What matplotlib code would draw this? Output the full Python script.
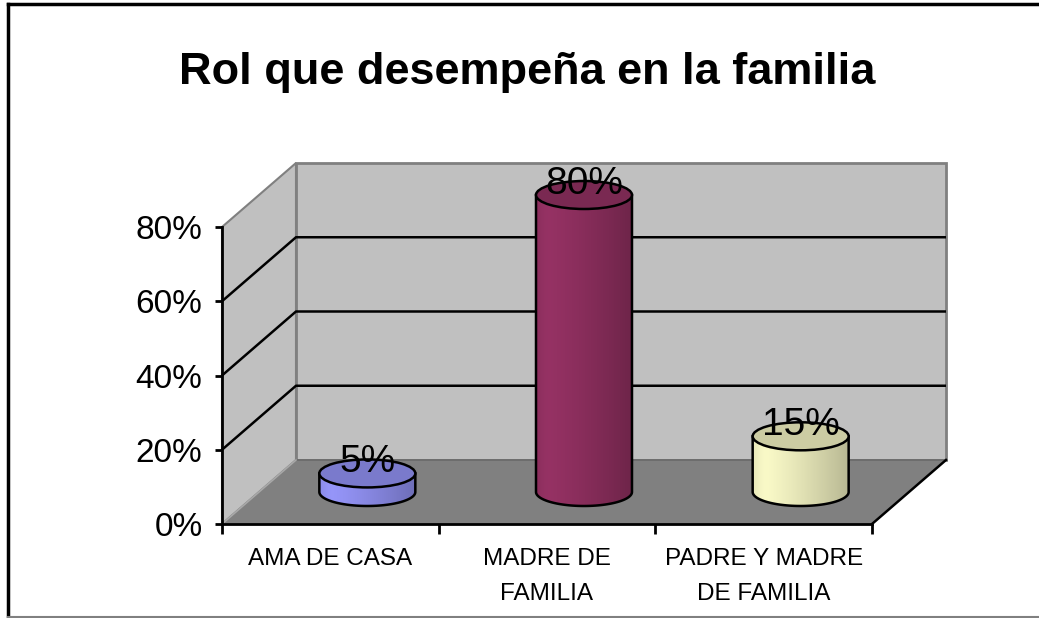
import numpy as np
import matplotlib
matplotlib.use("Agg")
import matplotlib.pyplot as plt
from matplotlib.patches import Polygon, Ellipse, PathPatch
from matplotlib.path import Path
from matplotlib.lines import Line2D
from matplotlib.colors import to_rgb

# ---- datos ----
categorias = ["AMA DE CASA", "MADRE DE\nFAMILIA", "PADRE Y MADRE\nDE FAMILIA"]
valores = [0.05, 0.80, 0.15]
colores = ["#9999FF", "#993366", "#FFFFCC"]
yticks = [0.0, 0.2, 0.4, 0.6, 0.8]
ytick_labels = ["0%", "20%", "40%", "60%", "80%"]
titulo = "Rol que desempeña en la familia"

plt.rcParams["font.family"] = ["Liberation Sans", "DejaVu Sans"]

W, H = 1039, 618
fig = plt.figure(figsize=(W / 100, H / 100), dpi=100)
fig.patch.set_facecolor("white")

# plano frontal del grafico 3D
ax = fig.add_axes([222 / W, (H - 524) / H, 650 / W, 297 / H])
ax.patch.set_visible(False)

# desplazamiento de profundidad (unidades de datos)
DX, DY = 0.3415, 0.1724
x0, x1 = -0.5, 2.5
ytop = yticks[-1]

gris_claro = "#C0C0C0"
gris = "#808080"

# paredes y piso
ax.add_patch(Polygon([(x0, 0), (x0, ytop), (x0 + DX, ytop + DY), (x0 + DX, DY)],
                     closed=True, fc=gris_claro, ec=gris, lw=1.5, clip_on=False, zorder=1))
ax.add_patch(Polygon([(x0 + DX, DY), (x0 + DX, ytop + DY), (x1 + DX, ytop + DY), (x1 + DX, DY)],
                     closed=True, fc=gris_claro, ec=gris, lw=2, clip_on=False, zorder=1))
for yv in yticks[1:-1]:
    ax.plot([x0, x0 + DX, x1 + DX], [yv, yv + DY, yv + DY], color="black", lw=1.8,
            clip_on=False, zorder=2, solid_capstyle="butt")
ax.add_patch(Polygon([(x0, 0), (x1, 0), (x1 + DX, DY), (x0 + DX, DY)],
                     closed=True, fc=gris, ec="none", clip_on=False, zorder=3))
ax.plot([x0 + DX, x1 + DX], [DY, DY], color="#6a6a6a", lw=1.2, clip_on=False, zorder=3)
ax.plot([x0, x0 + DX], [0, DY], color="#a8a8a8", lw=1.2, clip_on=False, zorder=3)
ax.plot([x1, x1 + DX], [0, DY], color="black", lw=1.8, clip_on=False, zorder=3)

# cilindros
ancho = 0.443
eh = 0.0754
t = np.linspace(0, 1, 200)
perfil = 1.0 - 0.08 * np.exp(-(t / 0.08) ** 2) - 0.28 * t ** 1.3
theta = np.linspace(np.pi, 2 * np.pi, 60)

for i, (v, c) in enumerate(zip(valores, colores)):
    cx = i + DX / 2
    base = DY / 2
    top = v + DY / 2
    xl, xr = cx - ancho / 2, cx + ancho / 2
    verts = [(xl, top), (xl, base)]
    verts += [(cx + ancho / 2 * np.cos(a), base + eh / 2 * np.sin(a)) for a in theta]
    verts += [(xr, top), (xl, top)]
    path = Path(verts, closed=True)
    rgb = np.array(to_rgb(c))
    grad = np.clip(perfil[None, :, None] * rgb[None, None, :], 0, 1)
    im = ax.imshow(grad, extent=(xl, xr, base - eh / 2, top), aspect="auto",
                   origin="lower", zorder=5, interpolation="bilinear")
    im.set_clip_box(fig.bbox)
    im.set_clip_path(PathPatch(path, transform=ax.transData))
    ax.add_patch(PathPatch(path, fc="none", ec="black", lw=1.8, clip_on=False, zorder=6))
    ax.add_patch(Ellipse((cx, top), ancho, eh, fc=np.clip(rgb * 0.8, 0, 1),
                         ec="black", lw=1.8, clip_on=False, zorder=7))
    ax.text(cx, top + 0.003, f"{v:.0%}", ha="center", va="baseline",
            fontsize=28, color="black", zorder=8, clip_on=False)

ax.set_xlim(-0.5, 2.5)
ax.set_ylim(0, 0.8)

# ejes
for s in ["top", "right"]:
    ax.spines[s].set_visible(False)
ax.spines["left"].set_linewidth(2)
ax.spines["bottom"].set_linewidth(2)
ax.spines["left"].set_zorder(9)
ax.spines["bottom"].set_zorder(9)
ax.set_yticks(yticks)
ax.set_yticklabels(ytick_labels)
ax.tick_params(axis="y", direction="out", length=5, width=2, pad=9, labelsize=24)
ax.set_xticks([-0.5, 0.5, 1.5, 2.5])
ax.set_xticklabels([])
ax.tick_params(axis="x", which="major", direction="out", length=7, width=2)
ax.set_xticks(range(len(categorias)), minor=True)
ax.set_xticklabels(categorias, minor=True, fontsize=17.5, linespacing=1.8)
ax.tick_params(axis="x", which="minor", length=0, pad=17)

# titulo
fig.text(527 / W, 1 - 84 / H, titulo, ha="center", va="baseline",
         fontsize=32.5, fontweight="bold")

# marco
fig.add_artist(Line2D([8 / W, 8 / W], [0, 1 - 4 / H], color="black", lw=2.5))
fig.add_artist(Line2D([8 / W, 1], [1 - 4 / H, 1 - 4 / H], color="black", lw=2.5))
fig.add_artist(Line2D([8 / W, 1], [1 / H, 1 / H], color="#808080", lw=1.5))

fig.savefig("out.png", dpi=100)
